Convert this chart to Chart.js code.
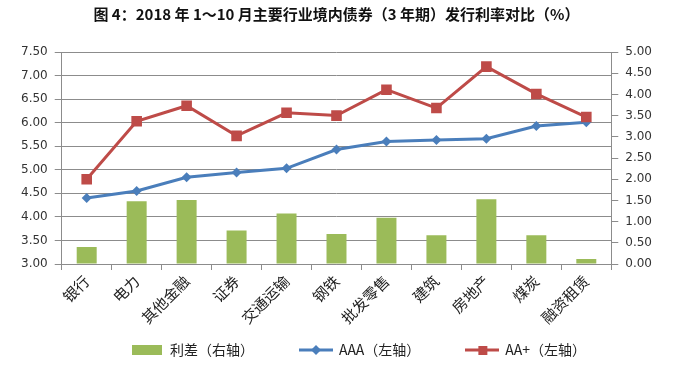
<!DOCTYPE html>
<html>
<head>
<meta charset="utf-8">
<script src="https://cdn.jsdelivr.net/npm/chart.js@4"></script>
<style>
  html, body { margin: 0; padding: 0; background: #fff; }
  #wrap { width: 676px; height: 365px; }
</style>
</head>
<body>
<div id="wrap"><canvas id="rateChart"></canvas></div>
<script>
const industries = ['银行', '电力', '其他金融', '证券', '交通运输', '钢铁', '批发零售', '建筑', '房地产', '煤炭', '融资租赁'];
const spread = [0.40, 1.48, 1.51, 0.79, 1.19, 0.71, 1.09, 0.68, 1.53, 0.68, 0.12];
const aaa = [4.40, 4.55, 4.84, 4.94, 5.03, 5.43, 5.60, 5.63, 5.66, 5.93, 6.01];
const aaPlus = [4.80, 6.03, 6.36, 5.72, 6.21, 6.15, 6.70, 6.31, 7.19, 6.61, 6.12];
const leftTicks = [3.0, 7.5, 0.5];
const rightTicks = [0, 5, 0.5];

const green = '#9BBB59';
const blue = '#4A7EBB';
const red = '#BE4B48';
const gridColor = '#8C8C8C';
const cjk = "'Noto Sans CJK SC', 'DejaVu Sans', sans-serif";

// little pictures for the legend keys
function sample(kind) {
  const c = document.createElement('canvas');
  c.width = 34; c.height = 12;
  const g = c.getContext('2d');
  if (kind === 'bar') {
    g.fillStyle = green;
    g.fillRect(2, 1, 30, 10);
    return c;
  }
  const col = kind === 'aaa' ? blue : red;
  g.strokeStyle = col; g.lineWidth = 3;
  g.beginPath(); g.moveTo(0, 6); g.lineTo(34, 6); g.stroke();
  g.fillStyle = col;
  if (kind === 'aaa') {
    g.beginPath(); g.moveTo(17, 1); g.lineTo(22, 6); g.lineTo(17, 11); g.lineTo(12, 6); g.closePath(); g.fill();
  } else {
    g.fillRect(13, 2, 9, 9);
  }
  return c;
}
const samples = [sample('bar'), sample('aaa'), sample('aa')];

// legend sits a bit right of centre in the original, and its wide item gap
// would otherwise make the box far too tall
const legendShift = {
  id: 'legendShift',
  afterLayout(chart) {
    const l = chart.legend;
    l.left += 22;
    l.right += 22;
    l.top = 297;
    l.bottom = 365;
  }
};

const ctx = document.getElementById('rateChart').getContext('2d');
new Chart(ctx, {
  data: {
    labels: industries,
    datasets: [
      {
        type: 'bar',
        label: '利差（右轴）',
        data: spread,
        yAxisID: 'y1',
        backgroundColor: green,
        barPercentage: 0.8,
        categoryPercentage: 0.5,
        order: 3
      },
      {
        type: 'line',
        label: 'AAA（左轴）',
        data: aaa,
        yAxisID: 'y',
        borderColor: blue,
        backgroundColor: blue,
        borderWidth: 3,
        pointStyle: 'rectRot',
        pointRadius: 5,
        pointBorderWidth: 0,
        tension: 0,
        order: 2
      },
      {
        type: 'line',
        label: 'AA+（左轴）',
        data: aaPlus,
        yAxisID: 'y',
        borderColor: red,
        backgroundColor: red,
        borderWidth: 3,
        pointStyle: 'rect',
        pointRadius: 7.5,
        pointBorderWidth: 0,
        tension: 0,
        order: 1
      }
    ]
  },
  options: {
    responsive: true,
    maintainAspectRatio: false,
    animation: false,
    layout: { padding: { left: 14, right: 17, top: 0, bottom: 0 } },
    scales: {
      x: {
        offset: true,
        afterFit: scale => { scale.height = 64; },
        grid: { display: true, drawOnChartArea: false, drawTicks: true, tickLength: 6, color: gridColor, offset: true },
        border: { color: gridColor },
        ticks: { minRotation: 45, maxRotation: 45, color: '#222', padding: 2, font: { family: cjk, size: 15 } }
      },
      y: {
        position: 'left',
        min: leftTicks[0],
        max: leftTicks[1],
        ticks: { stepSize: leftTicks[2], color: '#333', padding: 7, font: { family: "'DejaVu Sans', sans-serif", size: 12 },
          callback: v => Number(v).toFixed(2) },
        grid: { color: gridColor, tickLength: 7 },
        border: { color: gridColor }
      },
      y1: {
        position: 'right',
        min: rightTicks[0],
        max: rightTicks[1],
        ticks: { stepSize: rightTicks[2], color: '#333', padding: 7, font: { family: "'DejaVu Sans', sans-serif", size: 12 },
          callback: v => Number(v).toFixed(2) },
        grid: { drawOnChartArea: false, color: gridColor, tickLength: 7 },
        border: { color: gridColor }
      }
    },
    plugins: {
      title: {
        display: true,
        text: '图 4：2018 年 1～10 月主要行业境内债券（3 年期）发行利率对比（%）',
        color: '#111',
        font: { family: cjk, size: 15, weight: 'bold' },
        padding: { top: 5, bottom: 29 }
      },
      legend: {
        display: true,
        position: 'bottom',
        maxHeight: 37,
        labels: {
          usePointStyle: true,
          pointStyleWidth: 32,
          padding: 46,
          color: '#222',
          font: { family: cjk, size: 14 },
          generateLabels: chart => chart.data.datasets.map((ds, i) => ({
            text: ds.label,
            pointStyle: samples[i],
            fillStyle: 'transparent',
            strokeStyle: 'transparent',
            lineWidth: 0,
            hidden: false,
            datasetIndex: i,
            fontColor: '#222'
          }))
        }
      },
      tooltip: { enabled: false }
    }
  },
  plugins: [legendShift]
});
</script>
</body>
</html>
